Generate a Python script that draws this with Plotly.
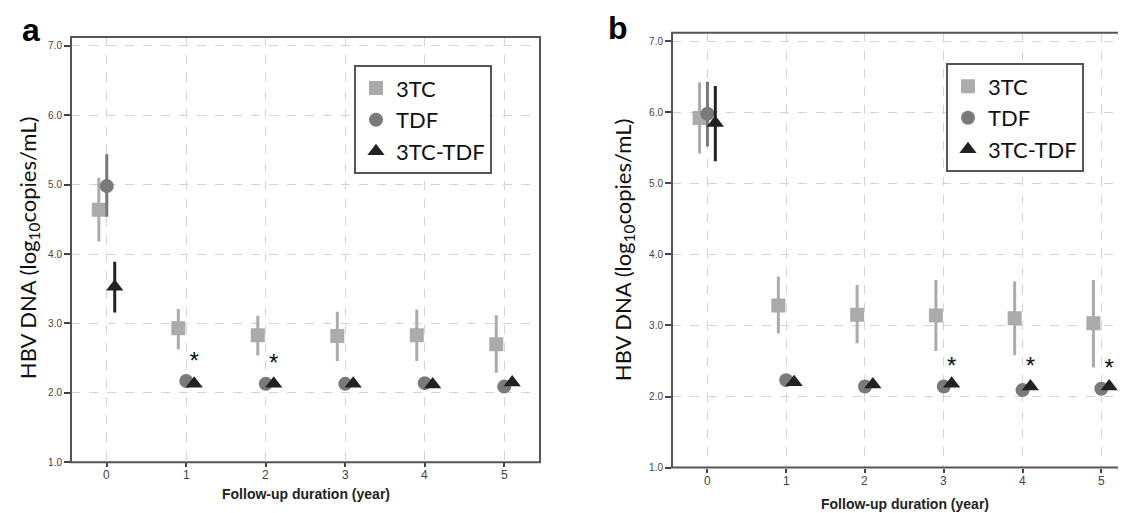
import plotly.graph_objects as go

# ---------------- data ----------------
years = [0, 1, 2, 3, 4, 5]

# Panel a
a_3tc = [4.64, 2.93, 2.83, 2.82, 2.83, 2.70]
a_3tc_lo = [4.18, 2.63, 2.54, 2.46, 2.46, 2.29]
a_3tc_hi = [5.10, 3.21, 3.11, 3.17, 3.20, 3.12]
a_tdf = [4.98, 2.17, 2.13, 2.13, 2.14, 2.09]
a_tdf_lo = [4.54, 2.17, 2.13, 2.13, 2.14, 2.09]
a_tdf_hi = [5.44, 2.17, 2.13, 2.13, 2.14, 2.09]
a_combo = [3.53, 2.13, 2.13, 2.13, 2.12, 2.15]
a_combo_lo = [3.16, 2.13, 2.13, 2.13, 2.12, 2.15]
a_combo_hi = [3.89, 2.13, 2.13, 2.13, 2.12, 2.15]
a_sig_years = [1, 2]
a_sig_y = [2.43, 2.40]

# Panel b
b_3tc = [5.92, 3.28, 3.15, 3.14, 3.10, 3.03]
b_3tc_lo = [5.42, 2.89, 2.75, 2.64, 2.58, 2.41]
b_3tc_hi = [6.42, 3.69, 3.57, 3.64, 3.62, 3.64]
b_tdf = [5.98, 2.23, 2.14, 2.14, 2.09, 2.11]
b_tdf_lo = [5.52, 2.23, 2.14, 2.14, 2.09, 2.11]
b_tdf_hi = [6.43, 2.23, 2.14, 2.14, 2.09, 2.11]
b_combo = [5.85, 2.20, 2.17, 2.18, 2.14, 2.14]
b_combo_lo = [5.31, 2.20, 2.17, 2.18, 2.14, 2.14]
b_combo_hi = [6.37, 2.20, 2.17, 2.18, 2.14, 2.14]
b_sig_years = [3, 4, 5]
b_sig_y = [2.40, 2.40, 2.37]

series_names = ["3TC", "TDF", "3TC-TDF"]
y_ticks = [1.0, 2.0, 3.0, 4.0, 5.0, 6.0, 7.0]
x_ticks = [0, 1, 2, 3, 4, 5]

# ---------------- style ----------------
offsets = [-0.1, 0.0, 0.1]
symbols = ["square", "circle", "triangle-up"]
mcolors = ["#ababab", "#7a7a7a", "#222222"]
ecolors = ["#ababab", "#777777", "#222222"]
msizes = [14, 14, 15]

W, H = 1126, 513

fig = go.Figure()


def add_panel(xa, ya, legend, vals, los, his, sig_x, sig_y):
    for i, (v, lo, hi) in enumerate(zip(vals, los, his)):
        xs = [yr + offsets[i] for yr in years]
        fig.add_trace(go.Scatter(
            x=xs, y=v, mode="markers", name=series_names[i],
            xaxis=xa, yaxis=ya, legend=legend,
            marker=dict(symbol=symbols[i], size=msizes[i], color=mcolors[i],
                        line=dict(width=0)),
            error_y=dict(type="data", symmetric=False,
                         array=[h - m for h, m in zip(hi, v)],
                         arrayminus=[m - l for m, l in zip(v, lo)],
                         color=ecolors[i], thickness=3, width=0),
        ))
    fig.add_trace(go.Scatter(
        x=[s + 0.1 for s in sig_x], y=sig_y, mode="text", text=["*"] * len(sig_x),
        textfont=dict(size=24, color="#111111", family="Arial"),
        xaxis=xa, yaxis=ya, showlegend=False, hoverinfo="skip"))


add_panel("x", "y", "legend", [a_3tc, a_tdf, a_combo], [a_3tc_lo, a_tdf_lo, a_combo_lo],
          [a_3tc_hi, a_tdf_hi, a_combo_hi], a_sig_years, a_sig_y)
add_panel("x2", "y2", "legend2", [b_3tc, b_tdf, b_combo], [b_3tc_lo, b_tdf_lo, b_combo_lo],
          [b_3tc_hi, b_tdf_hi, b_combo_hi], b_sig_years, b_sig_y)

grid = dict(showgrid=True, gridcolor="#d4d4d4", gridwidth=1, griddash="dash",
            zeroline=False, showline=False, ticks="outside",
            tickcolor="#444444", tickwidth=1.5)

xcommon = dict(grid, tickvals=x_ticks, showticklabels=False, ticklen=4)
ycommon = dict(grid, tickvals=y_ticks, ticktext=[f"{t:.1f}" for t in y_ticks], ticklen=6,
               tickfont=dict(size=10, color="#444444", family="Arial"))

pa_x = [63 / W, 532 / W]
pa_y = [1 - 459.6 / H, 1 - 29.3 / H]
pb_x = [664 / W, 1.0]
pb_y = [1 - 465 / H, 1 - 25 / H]

legend_common = dict(bgcolor="white", bordercolor="#555555", borderwidth=2,
                     font=dict(size=22, family="Lato", color="#111111"),
                     xanchor="left", yanchor="top", itemsizing="trace",
                     tracegroupgap=0)

fig.update_layout(
    width=W, height=H, margin=dict(l=0, r=0, t=0, b=0),
    plot_bgcolor="white", paper_bgcolor="white",
    showlegend=True,
    xaxis=dict(xcommon, domain=pa_x, range=[-0.45, 5.45], anchor="y"),
    yaxis=dict(ycommon, domain=pa_y, range=[1.0, 7.13], anchor="x"),
    xaxis2=dict(xcommon, domain=pb_x, range=[-0.45, (W - 699.3) / 78.8], anchor="y2"),
    yaxis2=dict(ycommon, domain=pb_y, range=[1.0, 7.12], anchor="x2"),
    legend=dict(legend_common, x=346 / W, y=1 - 58 / H),
    legend2=dict(legend_common, x=938 / W, y=1 - 56 / H),
)

# x tick labels placed just under each axis
for xa, ya in [("x", "y"), ("x2", "y2")]:
    for t in x_ticks:
        fig.add_annotation(text=str(t), x=t, y=0, xref=xa, yref=f"{ya} domain",
                           yanchor="top", yshift=-4, showarrow=False,
                           font=dict(size=12, color="#444444", family="Arial"))

# frames
fig.add_shape(type="rect", xref="x domain", yref="y domain", x0=0, x1=1, y0=0, y1=1,
              line=dict(color="#555555", width=2))
fig.add_shape(type="rect", xref="x2 domain", yref="y2 domain", x0=0, x1=1.02, y0=0, y1=1,
              line=dict(color="#555555", width=2))

# titles
ytitle = "HBV DNA (log<sub>10</sub>copies/mL)"
fig.add_annotation(text=ytitle, x=21 / W, y=1 - 243 / H, xref="paper", yref="paper",
                   textangle=-90, showarrow=False, xanchor="center", yanchor="middle",
                   font=dict(size=22, family="Lato", color="#111111"))
fig.add_annotation(text=ytitle, x=616 / W, y=1 - 245 / H, xref="paper", yref="paper",
                   textangle=-90, showarrow=False, xanchor="center", yanchor="middle",
                   font=dict(size=22, family="Lato", color="#111111"))
xtitle = "<b>Follow-up duration (year)</b>"
fig.add_annotation(text=xtitle, x=298 / W, y=1 - 492 / H, xref="paper", yref="paper",
                   showarrow=False, xanchor="center", yanchor="middle",
                   font=dict(size=14, family="Arial", color="#222222"))
fig.add_annotation(text=xtitle, x=897 / W, y=1 - 502 / H, xref="paper", yref="paper",
                   showarrow=False, xanchor="center", yanchor="middle",
                   font=dict(size=14, family="Arial", color="#222222"))
# panel letters
fig.add_annotation(text="<b>a</b>", x=23 / W, y=1 - 22 / H, xref="paper", yref="paper",
                   showarrow=False, xanchor="center", yanchor="middle",
                   font=dict(size=32, family="Arial", color="#000000"))
fig.add_annotation(text="<b>b</b>", x=610 / W, y=1 - 20 / H, xref="paper", yref="paper",
                   showarrow=False, xanchor="center", yanchor="middle",
                   font=dict(size=32, family="Arial", color="#000000"))

fig.write_html("out.html")
